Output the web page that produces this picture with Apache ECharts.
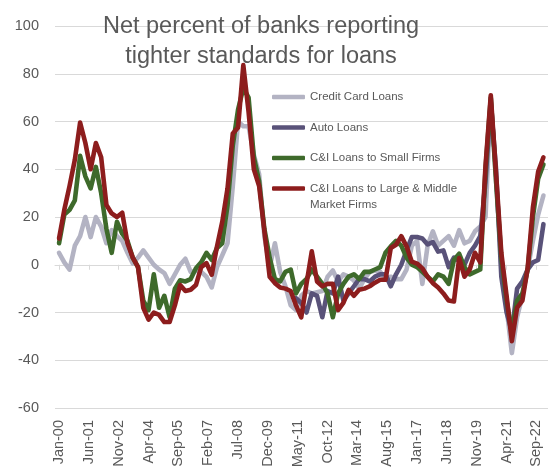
<!DOCTYPE html>
<html>
<head>
<meta charset="utf-8">
<script src="https://cdn.jsdelivr.net/npm/echarts@6/dist/echarts.min.js"></script>
<style>
  html, body { margin: 0; padding: 0; background: #ffffff; }
  #chart { width: 555px; height: 476px; }
</style>
</head>
<body>
<div id="chart"></div>
<script>
// Quarterly survey readings, Jan-2000 through Jan-2023 (one value per quarter).
// The x axis counts months since Jan-2000; each quarter sits 3 months after the previous one.

const tickLabels = ['Jan-00', 'Jun-01', 'Nov-02', 'Apr-04', 'Sep-05', 'Feb-07', 'Jul-08', 'Dec-09', 'May-11',
  'Oct-12', 'Mar-14', 'Aug-15', 'Jan-17', 'Jun-18', 'Nov-19', 'Apr-21', 'Sep-22'];
const tickStepMonths = 17;

const seriesNames = ['Credit Card Loans', 'Auto Loans', 'C&I Loans to Small Firms',
  'C&I Loans to Large & Middle Market Firms'];

const creditCard = [
  5, 1, -2, 8, 12, 20, 11.6, 20, 16, 9,
  14.5, 12, 10, 5, 0.5, 3, 6, 3, 0, -2,
  -3.5, -8, -4, 0, 2.5, -3, -2.5, -3, -5, -9.5,
  -1, 4, 9, 33, 60, 58, 58, 46, 38, 12,
  -1, 9, -3, -9, -17, -19, -13, -11, -12, -11.5,
  -11, -5, -2.4, -7, -4, -5, -6.6, -10, -6, -3,
  -2.4, -3, -6, -5, -6, -6, -2, 8, 10, -8,
  8, 14, 8, 10, 12, 8, 14.5, 9, 10, 14,
  16, 20, 70, 35, 0, -18, -37, -22, -13, -2,
  10, 21, 29
];

// Auto loan readings begin in 2011 Q2 (quarter 45 counted from 2000 Q1)
const autoStartQuarter = 45;
const autoLoans = [
  -14, -16, -20, -12, -13, -22, -11, -12, -5, -15,
  -12, -9, -6, -6, -7, -5, -4, -4, -9, -4,
  0, 6, 11.6, 11.6, 11, 8.5, 9.5, 5.5, 6, -1,
  3, 1.5, 0, 5, 8, 12, 35, 68, 40, -5,
  -20, -28, -10, -7, -2, 1, 2, 17
];

const smallFirms = [
  9, 21, 23, 27, 45.6, 37, 32, 41, 30, 15,
  5, 18, 13, 10, 3, -1, -15, -19, -4, -18,
  -13, -22, -10, -6.5, -7, -6, -1.5, 1, 5, 2,
  7, 9, 25, 50, 65, 74, 70, 45, 35, 15,
  3, -6, -7, -3, -2, -12, -8, -6, -2, -5,
  -8, -12, -22, -12, -8, -5, -4, -6, -3, -3,
  -2, -1, 5, 7.7, 10, 8, 3, 0, -1, -3,
  -5, -7, -4, -5, -8, 2, 4.6, -1, -4, -3,
  -2, 40, 70, 35, 3, -15, -28, -15, -12, -2,
  20, 36, 42
];

const largeFirms = [
  11, 23, 33, 44, 59.6, 51, 40, 51, 45, 25,
  21.5, 20, 21.8, 9, 3, -1, -18, -23, -20, -21,
  -24, -24, -17, -8.5, -11, -10.5, -8.5, -1, 0.7, -4.2,
  7.7, 18, 32, 55, 57.5, 83.6, 64, 40, 33, 14,
  -5, -7.7, -9.5, -10, -11, -17, -22, -8, 5.6, -7,
  -9, -8, -8, -19, -16, -10.5, -13, -10.5, -10, -9,
  -7.5, -6.3, -6.3, 7, 8.4, 12, 7.7, 1.3, 0.5, -1.5,
  -5, -7.7, -9.5, -12, -15, -15.4, 2.8, -5, -2, 5,
  1, 41.5, 71, 38, 5, -13, -32, -18, -15, -1.5,
  24, 39, 45
];

const colors = ['#b3b3c3', '#595279', '#3e6a2b', '#8d1d1d'];
const textColor = '#595959';
const gridColor = '#d9d9d9';
const fontFamily = '"Liberation Sans", Arial, sans-serif';

function toPoints(values, startQuarter) {
  return values.map((v, i) => [(startQuarter + i) * 3, v]);
}

const tickMonths = tickLabels.map((_, i) => i * tickStepMonths);

function lineSeries(name, values, startQuarter, color) {
  return {
    name: name,
    type: 'line',
    data: toPoints(values, startQuarter),
    showSymbol: false,
    symbol: 'none',
    color: color,
    lineStyle: { color: color, width: 4.6, cap: 'round', join: 'round' },
    emphasis: { disabled: true },
    animation: false
  };
}

const chart = echarts.init(document.getElementById('chart'), null, { renderer: 'canvas' });

chart.setOption({
  backgroundColor: '#ffffff',
  animation: false,
  title: {
    text: 'Net percent of banks reporting\ntighter standards for loans',
    left: 261,
    top: 12,
    padding: 0,
    textAlign: 'center',
    textStyle: { fontFamily: fontFamily, fontSize: 23.5, fontWeight: 'normal', color: textColor, lineHeight: 30 }
  },
  legend: {
    orient: 'vertical',
    left: 272,
    top: 90,
    padding: 0,
    itemWidth: 33,
    itemHeight: 4.5,
    itemGap: 16.5,
    icon: 'roundRect',
    selectedMode: false,
    data: seriesNames,
    formatter: function (name) {
      return name === seriesNames[3] ? 'C&I Loans to Large & Middle' : name;
    },
    textStyle: { fontFamily: fontFamily, fontSize: 11.5, color: textColor, lineHeight: 14 }
  },
  graphic: [{
    type: 'text',
    left: 310,
    top: 199,
    z: 100,
    style: { text: 'Market Firms', fill: textColor, font: '11.5px ' + fontFamily }
  }],
  grid: { left: 55, right: 7, top: 26, bottom: 68 },
  xAxis: [{
    type: 'value',
    min: -2.3,
    max: 278.6,
    position: 'bottom',
    axisLine: { show: false, onZero: false },
    axisTick: { show: false },
    splitLine: { show: false },
    axisLabel: {
      customValues: tickMonths,
      rotate: 90,
      margin: 12,
      fontFamily: fontFamily,
      fontSize: 14.5,
      color: textColor,
      formatter: function (v) {
        const i = Math.round(v / tickStepMonths);
        return Math.abs(v - i * tickStepMonths) < 1e-6 ? tickLabels[i] : '';
      }
    }
  }, {
    // axis line and tick marks drawn along the zero line
    type: 'value',
    min: -2.3,
    max: 278.6,
    position: 'bottom',
    axisLine: { show: true, onZero: true, lineStyle: { color: gridColor, width: 1 } },
    axisTick: { show: true, customValues: tickMonths, length: 5, lineStyle: { color: gridColor, width: 1 } },
    axisLabel: { show: false },
    splitLine: { show: false }
  }],
  yAxis: {
    type: 'value',
    min: -60,
    max: 100,
    interval: 20,
    axisLine: { show: false },
    axisTick: { show: false },
    splitLine: { show: true, lineStyle: { color: gridColor, width: 1.2 } },
    axisLabel: { margin: 16, fontFamily: fontFamily, fontSize: 14.5, color: textColor }
  },
  series: [
    lineSeries(seriesNames[0], creditCard, 0, colors[0]),
    lineSeries(seriesNames[1], autoLoans, autoStartQuarter, colors[1]),
    lineSeries(seriesNames[2], smallFirms, 0, colors[2]),
    lineSeries(seriesNames[3], largeFirms, 0, colors[3])
  ]
});
</script>
</body>
</html>
